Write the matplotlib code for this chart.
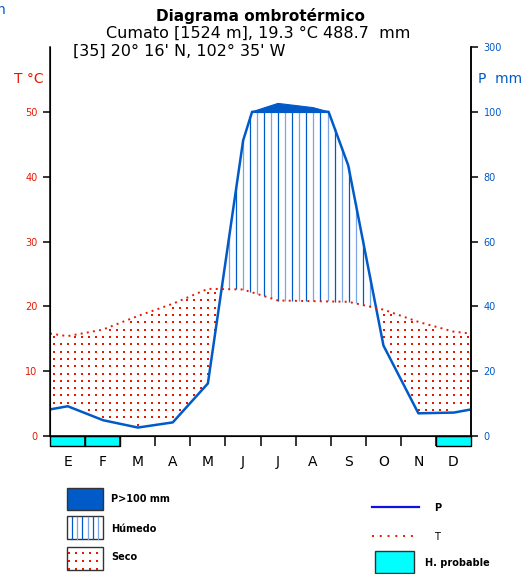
import numpy as np
import matplotlib
matplotlib.use('Agg')
import matplotlib.pyplot as plt
from matplotlib.patches import Rectangle

# monthly values
months = ['E', 'F', 'M', 'A', 'M', 'J', 'J', 'A', 'S', 'O', 'N', 'D']
temp = [15.4, 16.4, 18.5, 20.4, 22.7, 22.6, 20.9, 20.8, 20.7, 19.5, 17.6, 16.1]
prec = [9.2, 4.9, 2.6, 4.2, 16.2, 91.0, 126.0, 113.0, 83.5, 28.0, 7.0, 7.2]
temp_edge = 15.8   # value drawn at both ends of the curve
prec_edge = 8.2
frost_months = [0, 1, 11]   # months with probable frost (H. probable)

title = 'Diagrama ombrotérmico'
subtitle = 'Cumato [1524 m], 19.3 °C 488.7  mm'
coords = "[35] 20° 16' N, 102° 35' W"
p_ticks = [0, 20, 40, 60, 80, 100, 300]
t_ticks = [0, 10, 20, 30, 40, 50]

red = '#e81800'
blue = '#005ac8'
cyan = '#00ffff'


def p_to_t(p):
    # 0-100 mm -> 0-50 degC, above 100 mm compressed 1:10
    p = np.asarray(p, dtype=float)
    return np.where(p <= 100, p / 2, 50 + (p - 100) / 20)


W, H = 528, 574
fig = plt.figure(figsize=(W / 100, H / 100), dpi=100)
ax = fig.add_axes([50 / W, (H - 436) / H, 421 / W, 389 / H])

xs = np.concatenate([[0], np.arange(12) + 0.5, [12]])
ts = np.concatenate([[temp_edge], temp, [temp_edge]])
pm = np.concatenate([[prec_edge], prec, [prec_edge]])
praw = pm / 2
pcomp = p_to_t(pm)

# humid: vertical lines
for k, xv in enumerate(np.arange(0.11, 12, 0.2)):
    tv = np.interp(xv, xs, ts)
    pv = min(np.interp(xv, xs, praw), 50)
    if pv > tv:
        ax.plot([xv, xv], [tv, pv], color=blue if k % 2 == 0 else '#7aa6e6',
                lw=0.9, zorder=2, solid_capstyle='butt')

# dry: red dots
gx, gy = np.meshgrid(np.arange(0.11, 12, 0.2), np.arange(0.6, 30, 1.13))
gx, gy = gx.ravel(), gy.ravel()
tg = np.interp(gx, xs, ts)
pg = np.interp(gx, xs, praw)
keep = (gy < tg - 0.3) & (gy > pg + 0.4)
ax.plot(gx[keep], gy[keep], 's', color=red, ms=2.1, mew=0, zorder=2)

# P > 100 mm, dark fill
vx, vy = [], []
for i in range(len(xs) - 1):
    a, b = praw[i], praw[i + 1]
    if a > 50:
        vx.append(xs[i]); vy.append(pcomp[i])
    if (a - 50) * (b - 50) < 0:
        vx.append(xs[i] + (50 - a) / (b - a) * (xs[i + 1] - xs[i])); vy.append(50)
ax.fill(vx, vy, color=blue, lw=0.8, zorder=3)

xf = np.linspace(0, 12, 2401)
ax.plot(xf, np.minimum(np.interp(xf, xs, praw), 50), color=blue, lw=1.8, zorder=4)
ax.plot(xs, ts, color=red, lw=1.4, ls=(0, (1, 2.2)), zorder=5)

# frost probable boxes under the axis
for m in frost_months:
    ax.add_patch(Rectangle((m, -1.52), 1, 1.52, facecolor=cyan, edgecolor='black',
                           lw=1, clip_on=False, zorder=1))

ax.set_xlim(0, 12)
ax.set_ylim(0, 60)
ax.spines['top'].set_visible(False)
for s in ['left', 'right', 'bottom']:
    ax.spines[s].set_linewidth(1.1)
ax.set_xticks(np.arange(1, 12))
ax.set_xticklabels([])
ax.tick_params(axis='x', length=7.5, width=1.1, direction='out')
ax.set_xticks(np.arange(12) + 0.5, minor=True)
ax.set_xticklabels(months, minor=True, fontsize=10)
ax.tick_params(axis='x', which='minor', length=0, pad=14)
ax.set_yticks(t_ticks)
ax.set_yticklabels([str(t) for t in t_ticks], color=red, fontsize=7)
ax.tick_params(axis='y', length=5, width=1.1, pad=4)

ax2 = ax.twinx()
ax2.set_ylim(0, 60)
ax2.set_yticks(p_to_t(p_ticks))
ax2.set_yticklabels([str(p) for p in p_ticks], color=blue, fontsize=7)
ax2.tick_params(axis='y', length=5, width=1.1, pad=4)
ax2.spines['top'].set_visible(False)
ax2.spines['right'].set_linewidth(1.1)

# overlay in pixel coordinates for texts and legend
lay = fig.add_axes([0, 0, 1, 1])
lay.set_xlim(0, W)
lay.set_ylim(H, 0)
lay.axis('off')
lay.patch.set_alpha(0)

lay.text(260, 16, title, ha='center', va='center', fontsize=11, fontweight='bold')
lay.text(258, 33, subtitle, ha='center', va='center', fontsize=11.5)
lay.text(73, 51, coords, ha='left', va='center', fontsize=11.5)
lay.text(29, 79, 'T °C', ha='center', va='center', fontsize=10, color=red)
lay.text(500, 79, 'P  mm', ha='center', va='center', fontsize=10, color=blue)
lay.text(-3, 10, 'n', ha='left', va='center', fontsize=10, color=blue)

lay.add_patch(Rectangle((67, 488), 36, 22, facecolor=blue, edgecolor='#333333', lw=1))
lay.add_patch(Rectangle((67, 516), 36, 23, facecolor='white', edgecolor='#333333', lw=1))
for k, xv in enumerate(np.arange(72, 103, 5.2)):
    lay.plot([xv, xv], [516.5, 538.5], color=blue if k % 2 == 0 else '#7aa6e6', lw=0.9)
lay.add_patch(Rectangle((67, 547), 36, 23, facecolor='white', edgecolor='#333333', lw=1))
lx, ly = np.meshgrid(np.arange(68.5, 103, 7), [553, 561, 569])
lay.plot(lx.ravel(), ly.ravel(), 's', color=red, ms=2.1, mew=0)
lay.text(111, 499, 'P>100 mm', ha='left', va='center', fontsize=7, fontweight='bold')
lay.text(111, 529, 'Húmedo', ha='left', va='center', fontsize=7, fontweight='bold')
lay.text(111, 557, 'Seco', ha='left', va='center', fontsize=7, fontweight='bold')

lay.plot([372, 419], [507, 507], color='#1010e0', lw=1.6)
lay.plot([372, 415], [536, 536], color=red, lw=1.4, ls=(0, (1, 3)))
lay.add_patch(Rectangle((375, 551), 39, 22, facecolor=cyan, edgecolor='#333333', lw=1))
lay.text(434, 508, 'P', ha='left', va='center', fontsize=7, fontweight='bold')
lay.text(434, 537, 'T', ha='left', va='center', fontsize=7)
lay.text(425, 563, 'H. probable', ha='left', va='center', fontsize=7, fontweight='bold')

fig.savefig('out.png', dpi=100)
